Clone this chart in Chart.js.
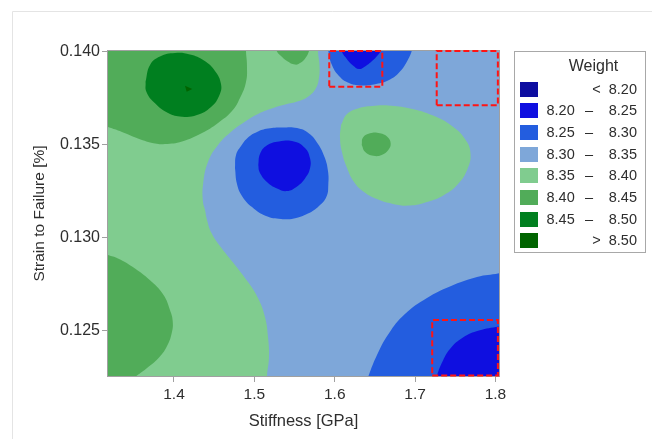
<!DOCTYPE html>
<html>
<head>
<meta charset="utf-8">
<title>Weight contour: stiffness vs strain to failure</title>
<script src="https://cdn.jsdelivr.net/npm/chart.js@4/dist/chart.umd.min.js"></script>
<style>
  html, body { margin: 0; padding: 0; background: #ffffff; }
  #wrap { position: relative; width: 652px; height: 439px; }
</style>
</head>
<body>
<div id="wrap"><canvas id="contour" width="652" height="439"></canvas></div>
<script>
// ---- axes ----
const stiffnessTicks = [1.4, 1.5, 1.6, 1.7, 1.8];          // GPa
const strainTicks = [0.125, 0.130, 0.135, 0.140];          // %
const stiffnessRange = [1.3179, 1.8044];
const strainRange = [0.12257, 0.14004];

// ---- weight classes (contour levels) ----
const bandEdges = [8.20, 8.25, 8.30, 8.35, 8.40, 8.45, 8.50];
const bandColors = ['#0d0da0', '#0f0fe0', '#235ddf', '#7ea7d9', '#80cc8f', '#51ac59', '#007f1f', '#006400'];

// ---- contour region outlines, [stiffness, strain] ----
// band 3 (8.30 - 8.35) fills the whole design space underneath
const fieldExtent = [[1.30,0.1220],[1.82,0.1220],[1.82,0.1410],[1.30,0.1410],[1.30,0.1220]];

// band 4 (8.35 - 8.40): western plateau
const westPlateau = [[1.25,0.14171],[1.5792,0.14171],[1.5792,0.14004],[1.5810,0.13929],[1.5804,0.13859],[1.5767,0.13805],[1.5680,0.13762],[1.5555,0.13735],[1.5406,0.13719],[1.5195,0.13692],[1.5020,0.13660],[1.4896,0.13628],[1.4722,0.13574],[1.4548,0.13499],[1.4423,0.13407],[1.4361,0.13284],[1.4361,0.13192],[1.4386,0.13149],[1.4411,0.13096],[1.4467,0.13026],[1.4591,0.12945],[1.4759,0.12854],[1.4921,0.12762],[1.5045,0.12676],[1.5132,0.12574],[1.5170,0.12467],[1.5182,0.12359],[1.5157,0.12257],[1.5145,0.12128],[1.25,0.12128],[1.25,0.14171]];

// band 5 (8.40 - 8.45): north-west hill
const northWestHill = [[1.25,0.14171],[1.4896,0.14171],[1.4896,0.14004],[1.4908,0.13929],[1.4896,0.13837],[1.4821,0.13751],[1.4722,0.13681],[1.4548,0.13617],[1.4349,0.13563],[1.4100,0.13518],[1.3888,0.13504],[1.3764,0.13507],[1.3552,0.13534],[1.3353,0.13569],[1.3179,0.13595],[1.2930,0.13633],[1.25,0.13633],[1.25,0.14171]];

// band 6 (8.45 - 8.50): summit of the north-west hill
const northWestSummit = [[1.3646,0.13839],[1.3658,0.13784],[1.3764,0.13723],[1.3926,0.13671],[1.4100,0.13651],[1.4286,0.13660],[1.4461,0.13703],[1.4566,0.13768],[1.4585,0.13827],[1.4510,0.13897],[1.4373,0.13953],[1.4199,0.13985],[1.4013,0.13993],[1.3826,0.13974],[1.3702,0.13929],[1.3646,0.13839]];

// band 7 (> 8.50): peak
const northWestPeak = [[1.4137,0.13817],[1.4228,0.13800],[1.4158,0.13785],[1.4137,0.13817]];

// band 5 (8.40 - 8.45): south-west hill
const southWestHill = [[1.25,0.12988],[1.2955,0.12950],[1.3179,0.12907],[1.3303,0.12889],[1.3515,0.12835],[1.3726,0.12762],[1.3870,0.12692],[1.3950,0.12612],[1.3984,0.12553],[1.3972,0.12488],[1.3909,0.12414],[1.3805,0.12352],[1.3661,0.12298],[1.3536,0.12258],[1.3353,0.12203],[1.25,0.12155],[1.25,0.12988]];

// band 5 (8.40 - 8.45): small knoll at the top edge
const topKnoll = [[1.5244,0.14063],[1.5278,0.14004],[1.5332,0.13977],[1.5406,0.13950],[1.5506,0.13931],[1.5580,0.13942],[1.5636,0.13966],[1.5680,0.14004],[1.5705,0.14063],[1.5244,0.14063]];

// band 4 (8.35 - 8.40): eastern island
const eastIsland = [[1.6078,0.13606],[1.6153,0.13665],[1.6290,0.13695],[1.6464,0.13708],[1.6663,0.13711],[1.6937,0.13695],[1.7223,0.13657],[1.7459,0.13601],[1.7621,0.13531],[1.7689,0.13456],[1.7652,0.13370],[1.7534,0.13289],[1.7360,0.13230],[1.7148,0.13192],[1.6937,0.13173],[1.6725,0.13182],[1.6526,0.13208],[1.6364,0.13246],[1.6240,0.13300],[1.6153,0.13375],[1.6090,0.13461],[1.6066,0.13536],[1.6078,0.13606]];

// band 5 (8.40 - 8.45): top of the eastern island
const eastIslandTop = [[1.6336,0.13499],[1.6352,0.13539],[1.6439,0.13562],[1.6563,0.13562],[1.6654,0.13543],[1.6696,0.13508],[1.6667,0.13472],[1.6584,0.13445],[1.6480,0.13441],[1.6377,0.13463],[1.6336,0.13499]];

// band 2 / band 1: central basin
const centralBasin = [[1.4759,0.13375],[1.4772,0.13445],[1.4834,0.13493],[1.4921,0.13539],[1.5033,0.13569],[1.5170,0.13587],[1.5344,0.13593],[1.5531,0.13590],[1.5680,0.13561],[1.5792,0.13504],[1.5873,0.13434],[1.5916,0.13359],[1.5920,0.13284],[1.5898,0.13222],[1.5804,0.13171],[1.5667,0.13130],[1.5493,0.13104],[1.5332,0.13101],[1.5145,0.13117],[1.4971,0.13165],[1.4846,0.13225],[1.4784,0.13289],[1.4759,0.13375]];
const centralBasinFloor = [[1.5049,0.13391],[1.5070,0.13450],[1.5154,0.13496],[1.5307,0.13518],[1.5493,0.13518],[1.5630,0.13483],[1.5692,0.13429],[1.5692,0.13372],[1.5630,0.13319],[1.5531,0.13276],[1.5406,0.13251],[1.5282,0.13265],[1.5157,0.13300],[1.5064,0.13354],[1.5049,0.13391]];

// band 2 / band 1: northern basin
const northBasin = [[1.5891,0.14063],[1.5920,0.14004],[1.5960,0.13934],[1.6053,0.13870],[1.6178,0.13832],[1.6314,0.13819],[1.6514,0.13827],[1.6688,0.13851],[1.6812,0.13894],[1.6899,0.13948],[1.6958,0.14004],[1.6986,0.14063],[1.5891,0.14063]];
const northBasinFloor = [[1.6041,0.14063],[1.6084,0.14004],[1.6146,0.13964],[1.6227,0.13926],[1.6302,0.13907],[1.6377,0.13921],[1.6464,0.13950],[1.6538,0.13983],[1.6570,0.14004],[1.6601,0.14063],[1.6041,0.14063]];

// band 2 / band 1: south-east basin
const southEastBasin = [[1.8305,0.12837],[1.8044,0.12809],[1.7770,0.12789],[1.7434,0.12738],[1.7148,0.12676],[1.6874,0.12590],[1.6669,0.12483],[1.6526,0.12370],[1.6420,0.12257],[1.6339,0.12155],[1.8305,0.12155],[1.8305,0.12837]];
const southEastBasinFloor = [[1.8305,0.12542],[1.8044,0.12523],[1.7795,0.12501],[1.7596,0.12464],[1.7434,0.12402],[1.7335,0.12329],[1.7272,0.12257],[1.7223,0.12171],[1.8305,0.12171],[1.8305,0.12542]];

// highlighted design windows [stiffness from, to, strain from, to]
const windowNorth = [1.5932, 1.6592, 0.13812, 0.14004];
const windowNorthEast = [1.7269, 1.8030, 0.13712, 0.14004];
const windowSouthEast = [1.7213, 1.8030, 0.12260, 0.12558];

// ---- chart ----
const FONT = '"Liberation Sans", Arial, Helvetica, sans-serif';
const TEXT = '#2e2e2e';
const AXIS = '#a0a0a0';

const contourLayers = [
  { band: 3, ring: fieldExtent, tension: 0 },
  { band: 4, ring: westPlateau },
  { band: 5, ring: northWestHill },
  { band: 6, ring: northWestSummit },
  { band: 7, ring: northWestPeak, tension: 0 },
  { band: 5, ring: southWestHill },
  { band: 5, ring: topKnoll },
  { band: 4, ring: eastIsland },
  { band: 5, ring: eastIslandTop },
  { band: 2, ring: centralBasin },
  { band: 1, ring: centralBasinFloor },
  { band: 2, ring: northBasin },
  { band: 1, ring: northBasinFloor },
  { band: 2, ring: southEastBasin },
  { band: 1, ring: southEastBasinFloor }
];

const toPoints = ring => ring.map(([x, y]) => ({ x, y }));
const windowRing = ([x0, x1, y0, y1]) => [[x0, y0], [x1, y0], [x1, y1], [x0, y1], [x0, y0]];

const datasets = [];
contourLayers.forEach(layer => {
  datasets.push({
    data: toPoints(layer.ring),
    showLine: true,
    fill: 'shape',
    backgroundColor: bandColors[layer.band],
    borderColor: 'rgba(0,0,0,0)',
    borderWidth: 0,
    pointRadius: 0,
    pointHoverRadius: 0,
    tension: layer.tension === undefined ? 0.45 : layer.tension
  });
});
[windowNorth, windowNorthEast, windowSouthEast].forEach(w => {
  datasets.push({
    data: toPoints(windowRing(w)),
    showLine: true,
    fill: false,
    borderColor: '#ff1414',
    borderWidth: 2,
    borderDash: [6, 3],
    pointRadius: 0,
    pointHoverRadius: 0,
    tension: 0,
    clip: false
  });
});
// first entry at the bottom of the stack
datasets.forEach((d, i) => { d.order = datasets.length - i; });

const pageFrame = {
  id: 'pageFrame',
  beforeDraw(chart) {
    const ctx = chart.ctx;
    ctx.save();
    ctx.fillStyle = '#ffffff';
    ctx.fillRect(0, 0, chart.width, chart.height);
    ctx.strokeStyle = '#e4e4e4';
    ctx.lineWidth = 1;
    ctx.beginPath();
    ctx.moveTo(12.5, chart.height);
    ctx.lineTo(12.5, 11.5);
    ctx.lineTo(chart.width, 11.5);
    ctx.stroke();
    ctx.restore();
  },
  beforeDatasetsDraw(chart) {
    const { ctx, chartArea: a } = chart;
    ctx.save();
    ctx.strokeStyle = AXIS;
    ctx.lineWidth = 1;
    ctx.strokeRect(a.left - 0.5, a.top - 0.5, a.right - a.left + 1, a.bottom - a.top + 1);
    ctx.restore();
  }
};

const weightLegend = {
  id: 'weightLegend',
  afterDraw(chart) {
    const ctx = chart.ctx;
    ctx.save();
    ctx.strokeStyle = '#a8a8a8';
    ctx.lineWidth = 1;
    ctx.strokeRect(514.5, 51.5, 131, 201);
    ctx.fillStyle = TEXT;
    ctx.textBaseline = 'middle';
    ctx.textAlign = 'center';
    ctx.font = '16px ' + FONT;
    ctx.fillText('Weight', 593.5, 67);
    ctx.font = '14.5px ' + FONT;
    const n = bandEdges.length;
    for (let i = 0; i <= n; i++) {
      const top = Math.round(81.5 + i * 21.7);
      ctx.fillStyle = bandColors[i];
      ctx.fillRect(520, top, 18, 15);
      const cy = top + 8;
      ctx.fillStyle = TEXT;
      if (i === 0 || i === n) {
        ctx.textAlign = 'right';
        const edge = i === 0 ? bandEdges[0] : bandEdges[n - 1];
        ctx.fillText((i === 0 ? '<  ' : '>  ') + edge.toFixed(2), 637, cy);
      } else {
        ctx.textAlign = 'left';
        ctx.fillText(bandEdges[i - 1].toFixed(2), 546.5, cy);
        ctx.textAlign = 'center';
        ctx.fillText('\u2013', 589, cy);
        ctx.textAlign = 'right';
        ctx.fillText(bandEdges[i].toFixed(2), 637, cy);
      }
    }
    ctx.restore();
  }
};

new Chart(document.getElementById('contour'), {
  type: 'scatter',
  data: { datasets },
  options: {
    responsive: false,
    maintainAspectRatio: false,
    devicePixelRatio: 1,
    animation: false,
    events: [],
    layout: { padding: { left: 20, right: 153, top: 51, bottom: 8 } },
    elements: { line: { capBezierPoints: false } },
    plugins: { legend: { display: false }, tooltip: { enabled: false } },
    scales: {
      x: {
        type: 'linear',
        position: 'bottom',
        min: stiffnessRange[0],
        max: stiffnessRange[1],
        afterBuildTicks: s => { s.ticks = stiffnessTicks.map(value => ({ value })); },
        afterFit: s => { s.height = 55; },
        border: { display: false },
        grid: { drawOnChartArea: false, drawTicks: true, tickLength: 6, color: AXIS },
        ticks: { color: TEXT, font: { family: FONT, size: 15.5 }, padding: 3, maxRotation: 0, autoSkip: false,
                 callback: v => Number(v).toFixed(1) },
        title: { display: true, text: 'Stiffness [GPa]', color: TEXT, font: { family: FONT, size: 16.5 },
                 padding: { top: 0, bottom: 0 } }
      },
      y: {
        type: 'linear',
        position: 'left',
        min: strainRange[0],
        max: strainRange[1],
        afterBuildTicks: s => { s.ticks = strainTicks.map(value => ({ value })); },
        afterFit: s => { s.width = 88; },
        border: { display: false },
        grid: { drawOnChartArea: false, drawTicks: true, tickLength: 6, color: AXIS },
        ticks: { color: TEXT, font: { family: FONT, size: 16 }, padding: 2, autoSkip: false,
                 callback: v => Number(v).toFixed(3) },
        title: { display: true, text: 'Strain to Failure [%]', color: TEXT, font: { family: FONT, size: 15.5 },
                 padding: { top: 10.5, bottom: 0 } }
      }
    }
  },
  plugins: [pageFrame, weightLegend]
});
</script>
</body>
</html>
